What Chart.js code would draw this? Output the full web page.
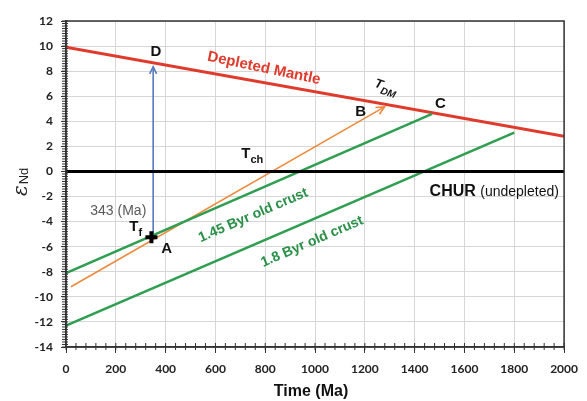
<!DOCTYPE html>
<html>
<head>
<meta charset="utf-8">
<script src="https://cdn.jsdelivr.net/npm/chart.js@4"></script>
<style>
  html, body { margin: 0; padding: 0; background: #fff; }
  #wrap { width: 587px; height: 401px; }
</style>
</head>
<body>
<div id="wrap"><canvas id="ndChart"></canvas></div>
<script>
// Nd evolution lines (time in Ma, epsilon Nd)
const depletedMantle = [{ x: 0, y: 9.9 }, { x: 2000, y: 2.8 }];
const chur = [{ x: 0, y: 0 }, { x: 2000, y: 0 }];
const crust145 = [{ x: 0, y: -8.1 }, { x: 1470, y: 4.6 }];
const crust18 = [{ x: 0, y: -12.3 }, { x: 1800, y: 3.1 }];
const sampleLine = [{ x: 20, y: -9.2 }, { x: 1279, y: 5.15 }];
const arrowD = [{ x: 350, y: -5.25 }, { x: 350, y: 8.35 }];
const pointA = [{ x: 343, y: -5.25 }];

const xTicks = [0, 200, 400, 600, 800, 1000, 1200, 1400, 1600, 1800, 2000];
const yTicks = [-14, -12, -10, -8, -6, -4, -2, 0, 2, 4, 6, 8, 10, 12];

const RED = '#e03a2c';
const GREEN = '#2f9e50';
const GREEN_TXT = '#2a9048';
const ORANGE = '#ee8a3e';
const BLUE = '#5579bd';
const TICKFONT = 'Lato, "Liberation Sans", sans-serif';
const FONT = '"Liberation Sans", Arial, sans-serif';

function lineSet(data, color, width) {
  return { data: data, showLine: true, borderColor: color, borderWidth: width,
           pointRadius: 0, fill: false, tension: 0 };
}

// angle of a two-point line in screen space
function lineAngle(chart, pts) {
  const xs = chart.scales.x, ys = chart.scales.y;
  const dx = xs.getPixelForValue(pts[1].x) - xs.getPixelForValue(pts[0].x);
  const dy = ys.getPixelForValue(pts[1].y) - ys.getPixelForValue(pts[0].y);
  return Math.atan2(dy, dx);
}

function arrowHead(ctx, x0, y0, x1, y1, len, color, width) {
  const a = Math.atan2(y1 - y0, x1 - x0);
  ctx.save();
  ctx.strokeStyle = color;
  ctx.lineWidth = width;
  ctx.beginPath();
  ctx.moveTo(x1 - len * Math.cos(a - 0.45), y1 - len * Math.sin(a - 0.45));
  ctx.lineTo(x1, y1);
  ctx.lineTo(x1 - len * Math.cos(a + 0.45), y1 - len * Math.sin(a + 0.45));
  ctx.stroke();
  ctx.restore();
}

function text(ctx, str, x, y, opts) {
  ctx.save();
  ctx.translate(x, y);
  if (opts.rot) ctx.rotate(opts.rot);
  ctx.font = opts.font;
  ctx.fillStyle = opts.color || '#111';
  ctx.textAlign = opts.align || 'center';
  ctx.textBaseline = 'middle';
  ctx.fillText(str, 0, 0);
  ctx.restore();
}

// T with a subscript, e.g. T_DM, T_ch, T_f
function subLabel(ctx, main, sub, x, y, size, rot, italic) {
  ctx.save();
  ctx.translate(x, y);
  if (rot) ctx.rotate(rot);
  ctx.fillStyle = '#111';
  ctx.textBaseline = 'middle';
  ctx.textAlign = 'left';
  const st = italic ? 'italic ' : '';
  ctx.font = st + 'bold ' + size + 'px ' + FONT;
  const w = ctx.measureText(main).width;
  ctx.fillText(main, 0, 0);
  ctx.font = st + 'bold ' + Math.round(size * 0.75) + 'px ' + FONT;
  ctx.fillText(sub, w, size * 0.4);
  ctx.restore();
}

const decorations = {
  id: 'decorations',
  afterDraw(chart) {
    const ctx = chart.ctx;
    const xs = chart.scales.x, ys = chart.scales.y;
    const area = chart.chartArea;
    const px = v => xs.getPixelForValue(v);
    const py = v => ys.getPixelForValue(v);

    // frame
    ctx.save();
    ctx.strokeStyle = '#333';
    ctx.lineWidth = 1.5;
    ctx.strokeRect(area.left, area.top, area.right - area.left, area.bottom - area.top);

    // minor ticks
    ctx.lineWidth = 1;
    ctx.beginPath();
    for (let v = 0; v <= 2000; v += 40) {
      ctx.moveTo(px(v), area.bottom - 4);
      ctx.lineTo(px(v), area.bottom + 3);
    }
    for (let i = 0; i <= 130; i++) {
      const v = -14 + i * 0.2;
      ctx.moveTo(area.left - 4, py(v));
      ctx.lineTo(area.left + 2, py(v));
    }
    ctx.stroke();
    ctx.restore();

    // arrow heads
    arrowHead(ctx, px(sampleLine[0].x), py(sampleLine[0].y), px(sampleLine[1].x), py(sampleLine[1].y), 9, ORANGE, 1.6);
    arrowHead(ctx, px(arrowD[0].x), py(arrowD[0].y), px(arrowD[1].x), py(arrowD[1].y), 8, BLUE, 1.6);

    // sample point A as a heavy plus
    const ax = px(pointA[0].x), ay = py(pointA[0].y);
    ctx.save();
    ctx.strokeStyle = '#000';
    ctx.lineWidth = 4;
    ctx.beginPath();
    ctx.moveTo(ax - 6, ay); ctx.lineTo(ax + 6, ay);
    ctx.moveTo(ax, ay - 6); ctx.lineTo(ax, ay + 6);
    ctx.stroke();
    ctx.restore();

    const dmRot = lineAngle(chart, depletedMantle);
    const crRot = lineAngle(chart, crust18);

    text(ctx, 'Depleted Mantle', px(795), py(8.23), { font: 'bold 15px ' + FONT, color: RED, rot: dmRot + 0.03 });
    text(ctx, '1.45 Byr old crust', px(752), py(-3.5), { font: 'bold 14px ' + FONT, color: GREEN_TXT, rot: crRot });
    text(ctx, '1.8 Byr old crust', px(988), py(-5.6), { font: 'bold 14px ' + FONT, color: GREEN_TXT, rot: crRot });

    const bold = 'bold 15px ' + FONT;
    text(ctx, 'D', px(361), py(9.5), { font: bold });
    text(ctx, 'B', px(1183), py(4.72), { font: bold });
    text(ctx, 'C', px(1503), py(5.43), { font: bold });
    text(ctx, 'A', px(404), py(-6.2), { font: bold });

    subLabel(ctx, 'T', 'DM', px(1240), py(7.05), 13, 0.33, true);
    subLabel(ctx, 'T', 'ch', px(704), py(1.37), 15, 0, false);
    subLabel(ctx, 'T', 'f', px(254), py(-4.45), 15, 0, false);

    text(ctx, '343 (Ma)', px(210), py(-3.18), { font: '14px ' + FONT, color: '#5a5a5a' });

    ctx.save();
    ctx.textBaseline = 'middle';
    ctx.fillStyle = '#111';
    ctx.font = 'bold 16px ' + FONT;
    const cx = px(1460), cy = py(-1.63);
    ctx.fillText('CHUR', cx, cy);
    const cw = ctx.measureText('CHUR ').width;
    ctx.font = '14px ' + FONT;
    ctx.fillText('(undepleted)', cx + cw, cy);
    ctx.restore();

    // axis titles
    text(ctx, 'Time (Ma)', (area.left + area.right) / 2 - 4, 392, { font: 'bold 16px ' + FONT });
    ctx.save();
    ctx.translate(22, 180);
    ctx.rotate(-Math.PI / 2);
    ctx.fillStyle = '#222';
    ctx.textBaseline = 'middle';
    ctx.textAlign = 'left';
    ctx.font = 'italic 20px "DejaVu Serif", serif';
    const ew = ctx.measureText('\u03b5').width;
    ctx.fillText('\u03b5', -16, 0);
    ctx.font = '13px ' + FONT;
    ctx.fillText('Nd', -16 + ew + 1, 2);
    ctx.restore();
  }
};

new Chart(document.getElementById('ndChart'), {
  type: 'scatter',
  data: {
    datasets: [
      lineSet(chur, '#000', 3),
      lineSet(crust145, GREEN, 2.5),
      lineSet(crust18, GREEN, 2.5),
      lineSet(depletedMantle, RED, 3),
      lineSet(sampleLine, ORANGE, 1.6),
      lineSet(arrowD, BLUE, 1.6)
    ]
  },
  options: {
    responsive: true,
    maintainAspectRatio: false,
    animation: false,
    layout: { padding: { top: 21, right: 15, left: 0, bottom: 0 } },
    plugins: { legend: { display: false }, tooltip: { enabled: false } },
    scales: {
      x: {
        type: 'linear', min: 0, max: 2000,
        afterFit: s => { s.height = 54; },
        afterBuildTicks: s => { s.ticks = xTicks.map(v => ({ value: v })); },
        ticks: { color: '#222', font: { family: TICKFONT, weight: 'bold', size: 12 }, padding: 9, maxRotation: 0,
                 callback: v => String(v) },
        grid: { color: '#d6d6d6', lineWidth: 1, tickColor: '#333', tickLength: 6 },
        border: { color: '#333', width: 1.5 }
      },
      y: {
        type: 'linear', min: -14, max: 12,
        afterFit: s => { s.width = 66; },
        afterBuildTicks: s => { s.ticks = yTicks.map(v => ({ value: v })); },
        ticks: { color: '#222', font: { family: TICKFONT, weight: 'bold', size: 12 }, padding: 8,
                 callback: v => String(v) },
        grid: { color: '#d6d6d6', lineWidth: 1, tickColor: '#333', tickLength: 5 },
        border: { color: '#333', width: 1.5 }
      }
    }
  },
  plugins: [decorations]
});
</script>
</body>
</html>
